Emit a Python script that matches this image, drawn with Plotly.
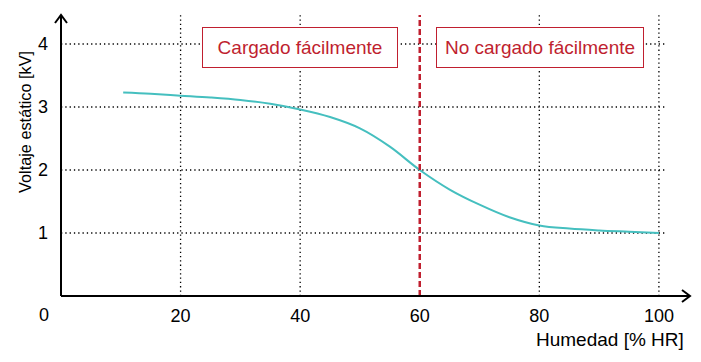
import plotly.graph_objects as go

# Data
humidity = [10.4, 15, 20, 25, 30, 35, 40, 45, 50, 55, 60, 65, 70, 75, 80, 85, 90, 95, 100]
voltage = [3.23, 3.21, 3.18, 3.15, 3.11, 3.05, 2.96, 2.84, 2.66, 2.37, 2.00, 1.69, 1.45, 1.25, 1.12,
           1.07, 1.04, 1.02, 1.00]
x_ticks = [20, 40, 60, 80, 100]
y_ticks = [1, 2, 3, 4]
threshold = 60
region_labels = ["Cargado fácilmente", "No cargado fácilmente"]
region_centers = [40, 80.1]

FONT = "Liberation Sans, Arial, Helvetica, sans-serif"
RED = "#c01f2f"
TEAL = "#45bfbf"

X_MAX = 105.2
Y_MAX = 4.46

fig = go.Figure()
fig.add_trace(go.Scatter(
    x=humidity, y=voltage, mode="lines",
    line=dict(color=TEAL, width=2, shape="spline", smoothing=1.0),
    hoverinfo="skip", showlegend=False,
))

shapes = []
for yv in y_ticks:
    shapes.append(dict(type="line", xref="x", yref="y", x0=0, x1=101.3, y0=yv, y1=yv,
                       line=dict(color="black", width=1.3, dash="1.3px,3px"), layer="below"))
for xv in x_ticks:
    if xv == threshold:
        continue
    shapes.append(dict(type="line", xref="x", yref="y", x0=xv, x1=xv, y0=0, y1=Y_MAX,
                       line=dict(color="black", width=1.3, dash="1.3px,3px"), layer="below"))
shapes.append(dict(type="line", xref="x", yref="y", x0=threshold, x1=threshold, y0=0, y1=Y_MAX,
                   line=dict(color=RED, width=2.5, dash="6px,3px"), layer="above"))
shapes.append(dict(type="line", xref="x domain", yref="y domain", x0=0, x1=1, y0=0, y1=0,
                   line=dict(color="black", width=2), layer="above"))
shapes.append(dict(type="line", xref="x domain", yref="y domain", x0=0, x1=0, y0=0, y1=1,
                   line=dict(color="black", width=2), layer="above"))
pw, ph = 629.0, 281.0
ax_ = 8 / pw
ay_ = 6 / ph
shapes.append(dict(type="path", xref="x domain", yref="y domain",
                   path=f"M {1-ax_},{ay_} L 1,0 L {1-ax_},{-ay_}",
                   line=dict(color="black", width=2), layer="above"))
bx = 6 / pw
by = 8 / ph
shapes.append(dict(type="path", xref="x domain", yref="y domain",
                   path=f"M {-bx},{1-by} L 0,1 L {bx},{1-by}",
                   line=dict(color="black", width=2), layer="above"))

L, R, T, B = 61, 11, 15, 66
W, H = 701, 362


def px_to_paper(px, py):
    return (px - L) / (W - L - R), 1 - (py - T) / (H - T - B)


annotations = []
widths = [190, 202]
for lab, cx, w in zip(region_labels, region_centers, widths):
    annotations.append(dict(
        x=cx, y=3.94, xref="x", yref="y", text=lab, showarrow=False,
        font=dict(family=FONT, size=19, color=RED),
        bgcolor="white", bordercolor=RED, borderwidth=1, borderpad=2,
        width=w, height=35, xanchor="center", yanchor="middle",
    ))
x0p, y0p = px_to_paper(44, 315)
annotations.append(dict(x=x0p, y=y0p, xref="paper", yref="paper", text="0", showarrow=False,
                        font=dict(family=FONT, size=18, color="black"),
                        xanchor="center", yanchor="middle"))
xa, ya = px_to_paper(25, 122)
annotations.append(dict(x=xa, y=ya, xref="paper", yref="paper", text="Voltaje estático [kV]",
                        showarrow=False, textangle=-90, xanchor="center", yanchor="middle",
                        font=dict(family=FONT, size=16.3, color="black")))
xh, yh = px_to_paper(686, 339)
annotations.append(dict(x=xh, y=yh, xref="paper", yref="paper", text="Humedad [% HR]",
                        showarrow=False, xanchor="right", yanchor="middle",
                        font=dict(family=FONT, size=19, color="black")))

fig.update_layout(
    width=W, height=H,
    margin=dict(l=L, r=R, t=T, b=B, autoexpand=False),
    paper_bgcolor="white", plot_bgcolor="white",
    shapes=shapes, annotations=annotations,
    font=dict(family=FONT, size=18, color="black"),
    xaxis=dict(range=[0, X_MAX], tickvals=x_ticks, showgrid=False, zeroline=False,
               showline=False, ticks="", tickfont=dict(size=18), automargin=False,
               ticklabelstandoff=7),
    yaxis=dict(range=[0, Y_MAX], tickvals=y_ticks, showgrid=False, zeroline=False,
               showline=False, ticks="", tickfont=dict(size=18), automargin=False,
               ticklabelstandoff=12),
)

fig.write_html("out.html", config={"displayModeBar": False},
               post_script="document.body.style.margin='0';document.body.style.overflow='hidden';")
